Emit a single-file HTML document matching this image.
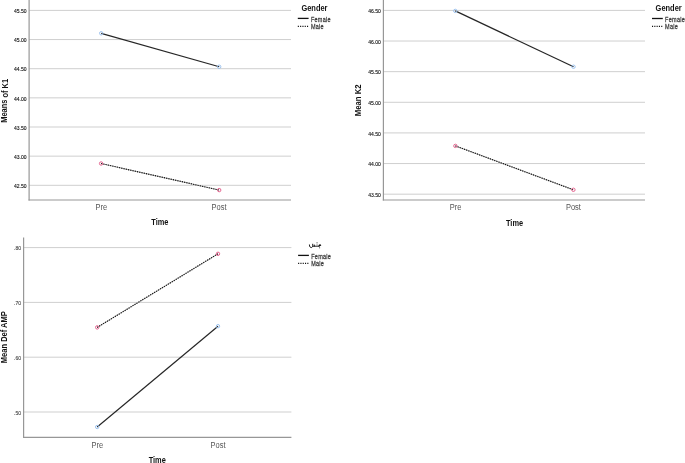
<!DOCTYPE html>
<html><head><meta charset="utf-8"><style>
html,body{margin:0;padding:0;background:#fff;}
body{width:685px;height:463px;overflow:hidden;}
svg{display:block;font-family:"Liberation Sans", sans-serif;will-change:transform;}
</style></head><body>
<svg width="685" height="463" viewBox="0 0 685 463">
<line x1="29.10" y1="10.40" x2="291.00" y2="10.40" stroke="#cfcfcf" stroke-width="1" />
<text transform="translate(26.50,13.10) scale(1,1.0)" font-size="5" fill="#111" text-anchor="end" stroke="#111" stroke-width="0.12">45.50</text>
<line x1="29.10" y1="39.55" x2="291.00" y2="39.55" stroke="#cfcfcf" stroke-width="1" />
<text transform="translate(26.50,42.25) scale(1,1.0)" font-size="5" fill="#111" text-anchor="end" stroke="#111" stroke-width="0.12">45.00</text>
<line x1="29.10" y1="68.70" x2="291.00" y2="68.70" stroke="#cfcfcf" stroke-width="1" />
<text transform="translate(26.50,71.40) scale(1,1.0)" font-size="5" fill="#111" text-anchor="end" stroke="#111" stroke-width="0.12">44.50</text>
<line x1="29.10" y1="97.85" x2="291.00" y2="97.85" stroke="#cfcfcf" stroke-width="1" />
<text transform="translate(26.50,100.55) scale(1,1.0)" font-size="5" fill="#111" text-anchor="end" stroke="#111" stroke-width="0.12">44.00</text>
<line x1="29.10" y1="127.00" x2="291.00" y2="127.00" stroke="#cfcfcf" stroke-width="1" />
<text transform="translate(26.50,129.70) scale(1,1.0)" font-size="5" fill="#111" text-anchor="end" stroke="#111" stroke-width="0.12">43.50</text>
<line x1="29.10" y1="156.15" x2="291.00" y2="156.15" stroke="#cfcfcf" stroke-width="1" />
<text transform="translate(26.50,158.85) scale(1,1.0)" font-size="5" fill="#111" text-anchor="end" stroke="#111" stroke-width="0.12">43.00</text>
<line x1="29.10" y1="185.30" x2="291.00" y2="185.30" stroke="#cfcfcf" stroke-width="1" />
<text transform="translate(26.50,188.00) scale(1,1.0)" font-size="5" fill="#111" text-anchor="end" stroke="#111" stroke-width="0.12">42.50</text>
<line x1="29.10" y1="0.00" x2="29.10" y2="200.60" stroke="#979797" stroke-width="1.2" />
<line x1="28.50" y1="200.00" x2="291.00" y2="200.00" stroke="#979797" stroke-width="1.2" />
<line x1="101.20" y1="33.30" x2="219.20" y2="66.75" stroke="#262626" stroke-width="1.2" />
<line x1="101.10" y1="163.50" x2="219.20" y2="190.10" stroke="#9a9a9a" stroke-width="0.9" />
<line x1="101.10" y1="163.50" x2="219.20" y2="190.10" stroke="#111" stroke-width="1.2" stroke-dasharray="1.1 1.2"/>
<circle cx="101.20" cy="33.30" r="1.7" fill="none" stroke="#9cc2ee" stroke-width="1"/>
<circle cx="219.20" cy="66.75" r="1.7" fill="none" stroke="#9cc2ee" stroke-width="1"/>
<circle cx="101.10" cy="163.50" r="1.7" fill="none" stroke="#e4628e" stroke-width="1"/>
<circle cx="219.20" cy="190.10" r="1.7" fill="none" stroke="#e4628e" stroke-width="1"/>
<text transform="translate(101.25,210.00) scale(1,1.15)" font-size="7.5" fill="#555" text-anchor="middle" >Pre</text>
<text transform="translate(219.10,210.00) scale(1,1.15)" font-size="7.5" fill="#555" text-anchor="middle" >Post</text>
<text transform="translate(159.80,224.90) scale(1,1.14)" font-size="7.4" fill="#111" text-anchor="middle" font-weight="bold" >Time</text>
<text transform="translate(7.5,100.8) rotate(-89.99) scale(1,1.1)" font-size="7.45" fill="#111" text-anchor="middle" font-weight="bold">Means of K1</text>
<text transform="translate(301.40,10.80) scale(1,1.1)" font-size="7.45" fill="#111" text-anchor="start" font-weight="bold" >Gender</text>
<line x1="297.80" y1="18.40" x2="308.60" y2="18.40" stroke="#111" stroke-width="1.3" />
<line x1="297.80" y1="26.30" x2="308.60" y2="26.30" stroke="#111" stroke-width="1.3" stroke-dasharray="1.1 1.2"/>
<text transform="translate(310.90,21.80) scale(1,1.3)" font-size="5.5" fill="#3a3a3a" text-anchor="start" stroke="#3a3a3a" stroke-width="0.2" letter-spacing="0.27">Female</text>
<text transform="translate(310.90,29.30) scale(1,1.3)" font-size="5.5" fill="#3a3a3a" text-anchor="start" stroke="#3a3a3a" stroke-width="0.2" letter-spacing="0.27">Male</text>
<line x1="383.40" y1="10.40" x2="645.00" y2="10.40" stroke="#cfcfcf" stroke-width="1" />
<text transform="translate(380.80,13.10) scale(1,1.0)" font-size="5" fill="#111" text-anchor="end" stroke="#111" stroke-width="0.12">46.50</text>
<line x1="383.40" y1="41.03" x2="645.00" y2="41.03" stroke="#cfcfcf" stroke-width="1" />
<text transform="translate(380.80,43.73) scale(1,1.0)" font-size="5" fill="#111" text-anchor="end" stroke="#111" stroke-width="0.12">46.00</text>
<line x1="383.40" y1="71.66" x2="645.00" y2="71.66" stroke="#cfcfcf" stroke-width="1" />
<text transform="translate(380.80,74.36) scale(1,1.0)" font-size="5" fill="#111" text-anchor="end" stroke="#111" stroke-width="0.12">45.50</text>
<line x1="383.40" y1="102.29" x2="645.00" y2="102.29" stroke="#cfcfcf" stroke-width="1" />
<text transform="translate(380.80,104.99) scale(1,1.0)" font-size="5" fill="#111" text-anchor="end" stroke="#111" stroke-width="0.12">45.00</text>
<line x1="383.40" y1="132.92" x2="645.00" y2="132.92" stroke="#cfcfcf" stroke-width="1" />
<text transform="translate(380.80,135.62) scale(1,1.0)" font-size="5" fill="#111" text-anchor="end" stroke="#111" stroke-width="0.12">44.50</text>
<line x1="383.40" y1="163.55" x2="645.00" y2="163.55" stroke="#cfcfcf" stroke-width="1" />
<text transform="translate(380.80,166.25) scale(1,1.0)" font-size="5" fill="#111" text-anchor="end" stroke="#111" stroke-width="0.12">44.00</text>
<line x1="383.40" y1="194.18" x2="645.00" y2="194.18" stroke="#cfcfcf" stroke-width="1" />
<text transform="translate(380.80,196.88) scale(1,1.0)" font-size="5" fill="#111" text-anchor="end" stroke="#111" stroke-width="0.12">43.50</text>
<line x1="383.40" y1="0.00" x2="383.40" y2="200.60" stroke="#979797" stroke-width="1.2" />
<line x1="382.80" y1="200.00" x2="645.00" y2="200.00" stroke="#979797" stroke-width="1.2" />
<line x1="455.30" y1="10.90" x2="573.50" y2="66.75" stroke="#262626" stroke-width="1.2" />
<line x1="455.40" y1="145.90" x2="573.40" y2="189.80" stroke="#9a9a9a" stroke-width="0.9" />
<line x1="455.40" y1="145.90" x2="573.40" y2="189.80" stroke="#111" stroke-width="1.2" stroke-dasharray="1.1 1.2"/>
<circle cx="455.30" cy="10.90" r="1.7" fill="none" stroke="#9cc2ee" stroke-width="1"/>
<circle cx="573.50" cy="66.75" r="1.7" fill="none" stroke="#9cc2ee" stroke-width="1"/>
<circle cx="455.40" cy="145.90" r="1.7" fill="none" stroke="#e4628e" stroke-width="1"/>
<circle cx="573.40" cy="189.80" r="1.7" fill="none" stroke="#e4628e" stroke-width="1"/>
<text transform="translate(455.60,210.00) scale(1,1.15)" font-size="7.5" fill="#555" text-anchor="middle" >Pre</text>
<text transform="translate(573.40,210.00) scale(1,1.15)" font-size="7.5" fill="#555" text-anchor="middle" >Post</text>
<text transform="translate(514.50,225.60) scale(1,1.14)" font-size="7.4" fill="#111" text-anchor="middle" font-weight="bold" >Time</text>
<text transform="translate(361.2,100.3) rotate(-89.99) scale(1,1.1)" font-size="7.75" fill="#111" text-anchor="middle" font-weight="bold">Mean K2</text>
<text transform="translate(655.60,10.90) scale(1,1.1)" font-size="7.45" fill="#111" text-anchor="start" font-weight="bold" >Gender</text>
<line x1="652.00" y1="18.50" x2="662.80" y2="18.50" stroke="#111" stroke-width="1.3" />
<line x1="652.00" y1="26.40" x2="662.80" y2="26.40" stroke="#111" stroke-width="1.3" stroke-dasharray="1.1 1.2"/>
<text transform="translate(665.10,21.90) scale(1,1.3)" font-size="5.5" fill="#3a3a3a" text-anchor="start" stroke="#3a3a3a" stroke-width="0.2" letter-spacing="0.27">Female</text>
<text transform="translate(665.10,29.40) scale(1,1.3)" font-size="5.5" fill="#3a3a3a" text-anchor="start" stroke="#3a3a3a" stroke-width="0.2" letter-spacing="0.27">Male</text>
<line x1="23.60" y1="247.60" x2="291.40" y2="247.60" stroke="#cfcfcf" stroke-width="1" />
<text transform="translate(21.00,250.30) scale(1,1.0)" font-size="5" fill="#4a4a4a" text-anchor="end" stroke="#4a4a4a" stroke-width="0.12">.80</text>
<line x1="23.60" y1="302.40" x2="291.40" y2="302.40" stroke="#cfcfcf" stroke-width="1" />
<text transform="translate(21.00,305.10) scale(1,1.0)" font-size="5" fill="#4a4a4a" text-anchor="end" stroke="#4a4a4a" stroke-width="0.12">.70</text>
<line x1="23.60" y1="357.20" x2="291.40" y2="357.20" stroke="#cfcfcf" stroke-width="1" />
<text transform="translate(21.00,359.90) scale(1,1.0)" font-size="5" fill="#4a4a4a" text-anchor="end" stroke="#4a4a4a" stroke-width="0.12">.60</text>
<line x1="23.60" y1="412.00" x2="291.40" y2="412.00" stroke="#cfcfcf" stroke-width="1" />
<text transform="translate(21.00,414.70) scale(1,1.0)" font-size="5" fill="#4a4a4a" text-anchor="end" stroke="#4a4a4a" stroke-width="0.12">.50</text>
<line x1="23.60" y1="237.50" x2="23.60" y2="438.00" stroke="#979797" stroke-width="1.2" />
<line x1="23.00" y1="437.40" x2="291.40" y2="437.40" stroke="#979797" stroke-width="1.2" />
<line x1="97.20" y1="427.00" x2="218.00" y2="326.20" stroke="#262626" stroke-width="1.2" />
<line x1="97.20" y1="327.40" x2="218.00" y2="253.80" stroke="#9a9a9a" stroke-width="0.9" />
<line x1="97.20" y1="327.40" x2="218.00" y2="253.80" stroke="#111" stroke-width="1.2" stroke-dasharray="1.1 1.2"/>
<circle cx="97.20" cy="427.00" r="1.7" fill="none" stroke="#9cc2ee" stroke-width="1"/>
<circle cx="218.00" cy="326.20" r="1.7" fill="none" stroke="#9cc2ee" stroke-width="1"/>
<circle cx="97.20" cy="327.40" r="1.7" fill="none" stroke="#e4628e" stroke-width="1"/>
<circle cx="218.00" cy="253.80" r="1.7" fill="none" stroke="#e4628e" stroke-width="1"/>
<text transform="translate(97.25,447.50) scale(1,1.15)" font-size="7.5" fill="#555" text-anchor="middle" >Pre</text>
<text transform="translate(218.00,447.50) scale(1,1.15)" font-size="7.5" fill="#555" text-anchor="middle" >Post</text>
<text transform="translate(157.20,462.60) scale(1,1.14)" font-size="7.4" fill="#111" text-anchor="middle" font-weight="bold" >Time</text>
<text transform="translate(7.3,337.2) rotate(-89.99) scale(1,1.1)" font-size="7.55" fill="#111" text-anchor="middle" font-weight="bold">Mean Def AMP</text>
<g fill="none" stroke="#111" stroke-width="0.95" stroke-linecap="round" stroke-linejoin="round"><path d="M309.4,244.9 C309.2,248.4 312.8,248.4 312.7,245.6 L312.7,244.2 M312.7,246.2 L319.2,246.2 M314.3,246.2 L314.3,245.0"/></g><path d="M318.5,246.7 L321.4,245.6 L320.1,244.1 L318.7,245.0 Z" fill="#111"/><rect x="316.5" y="242.1" width="1.1" height="1.3" fill="#777"/><rect x="316.6" y="243.9" width="0.9" height="2" fill="#999"/><rect x="319.1" y="247.3" width="1.0" height="1.0" fill="#444"/>
<line x1="298.10" y1="255.40" x2="308.90" y2="255.40" stroke="#111" stroke-width="1.3" />
<line x1="298.10" y1="263.30" x2="308.90" y2="263.30" stroke="#111" stroke-width="1.3" stroke-dasharray="1.1 1.2"/>
<text transform="translate(311.20,258.80) scale(1,1.3)" font-size="5.5" fill="#3a3a3a" text-anchor="start" stroke="#3a3a3a" stroke-width="0.2" letter-spacing="0.27">Female</text>
<text transform="translate(311.20,266.30) scale(1,1.3)" font-size="5.5" fill="#3a3a3a" text-anchor="start" stroke="#3a3a3a" stroke-width="0.2" letter-spacing="0.27">Male</text>
</svg>
</body></html>
